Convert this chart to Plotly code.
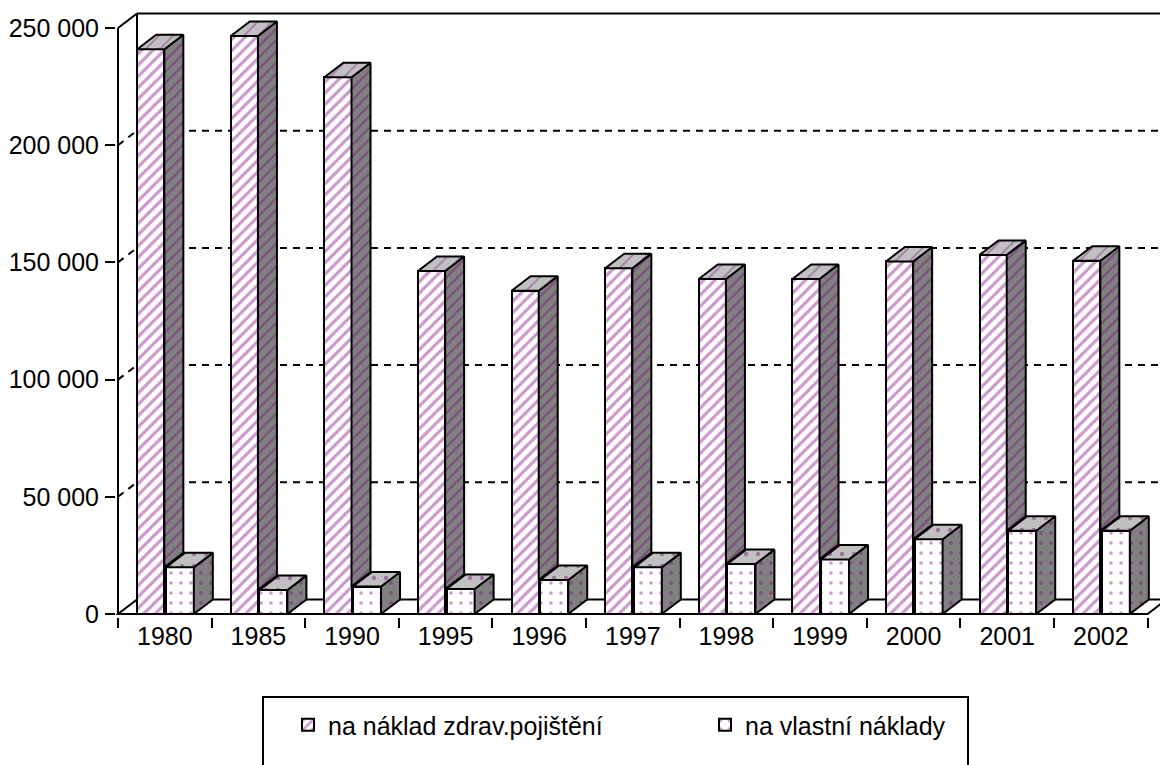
import plotly.graph_objects as go

# ---- data ----
years = ["1980", "1985", "1990", "1995", "1996", "1997", "1998", "1999", "2000", "2001", "2002"]
insured = [240900, 246600, 229000, 146300, 137900, 147500, 142900, 142900, 150400, 153200, 150700]
own_cost = [19900, 10200, 11700, 10700, 14500, 19900, 21300, 23300, 31900, 35500, 35500]
name_insured = "na náklad zdrav.pojištění"
name_own = "na vlastní náklady"
y_ticks = [0, 50000, 100000, 150000, 200000, 250000]

# ---- geometry (pixels -> data units) ----
W, H = 1160, 765
U = 93.6                 # px per category
K = 117.2 / 50000        # px per value unit
X_LEFT_PX = 118          # pixel of x = -0.5
Y0_PX = 614              # pixel of y = 0
PAD = 2
M_L = X_LEFT_PX - PAD
M_T = 8
M_B = H - (Y0_PX + 3)
x_rng = [-0.5 - PAD / U, -0.5 + (W - X_LEFT_PX) / U]
y_rng = [-3 / K, (Y0_PX - M_T) / K]
DX = 19 / U
DY = 14.5 / K
YMAX = y_ticks[-1]

n = len(years)
xs = list(range(n))

BIG_OFF, BIG_W = -0.295, 0.29
SM_OFF, SM_W = 0.01, 0.30

PURPLE = "#993399"
DPURPLE = "#7a1f7a"
GRAY = "#808080"
LGRAY = "#c0c0c0"
FONT = "Liberation Sans, Arial, sans-serif"

fig = go.Figure()

fig.add_trace(go.Bar(
    x=xs, y=insured, name=name_insured, offset=BIG_OFF, width=BIG_W,
    marker=dict(color="white", line=dict(color="black", width=2),
                pattern=dict(shape="/", fgcolor=PURPLE, bgcolor="white", size=8, solidity=0.4)),
    hoverinfo="skip"))
fig.add_trace(go.Bar(
    x=xs, y=own_cost, name=name_own, offset=SM_OFF, width=SM_W,
    marker=dict(color="white", line=dict(color="black", width=2),
                pattern=dict(shape=".", fgcolor=PURPLE, bgcolor="white", size=10, solidity=0.1)),
    hoverinfo="skip"))


def side_poly(xr, ybase, ytop):
    return [xr, xr + DX, xr + DX, xr, xr, None], [ybase, ybase + DY, ytop + DY, ytop, ybase, None]


def top_poly(xl, xr, ytop):
    return [xl, xl + DX, xr + DX, xr, xl, None], [ytop, ytop + DY, ytop + DY, ytop, ytop, None]


def faces(offset, width, vals, bases):
    sx, sy, tx, ty = [], [], [], []
    for i, v in enumerate(vals):
        xl = i + offset
        xr = xl + width
        a, b = side_poly(xr, bases[i], v)
        sx += a; sy += b
        a, b = top_poly(xl, xr, v)
        tx += a; ty += b
    return sx, sy, tx, ty


bsx, bsy, btx, bty = faces(BIG_OFF, BIG_W, insured, own_cost)
ssx, ssy, stx, sty = faces(SM_OFF, SM_W, own_cost, [0] * n)

for fx, fy, bg, shape, fg, size, sol in [
    (bsx, bsy, GRAY, "/", DPURPLE, 8, 0.3),
    (btx, bty, LGRAY, "/", DPURPLE, 10, 0.15),
    (ssx, ssy, GRAY, ".", DPURPLE, 10, 0.12),
    (stx, sty, LGRAY, ".", DPURPLE, 12, 0.1),
]:
    fig.add_trace(go.Scatter(
        x=fx, y=fy, mode="lines", fill="toself", fillcolor=bg,
        fillpattern=dict(shape=shape, fgcolor=fg, bgcolor=bg, size=size, solidity=sol),
        line=dict(color="black", width=2), showlegend=False, hoverinfo="skip"))

shapes = []
xl0 = -0.5
xr0 = n - 0.5
xend = x_rng[1] + 1
# floor
shapes.append(dict(type="path", xref="x", yref="y", layer="below",
                   path=f"M{xl0},0 L{xr0},0 L{xr0 + DX},{DY} L{xl0 + DX},{DY} Z",
                   fillcolor="white", line=dict(color="black", width=2)))
# back wall gridlines (dashed) and side-wall diagonals
for v in y_ticks[1:-1]:
    shapes.append(dict(type="line", xref="x", yref="y", layer="below",
                       x0=xl0 + DX, x1=xend, y0=v + DY, y1=v + DY,
                       line=dict(color="black", width=2, dash="7px,6px")))
    shapes.append(dict(type="line", xref="x", yref="y", layer="below",
                       x0=xl0, x1=xl0 + DX, y0=v, y1=v + DY,
                       line=dict(color="black", width=2, dash="7px,6px")))
# back wall outline
shapes.append(dict(type="line", xref="x", yref="y", layer="below",
                   x0=xl0 + DX, x1=xl0 + DX, y0=DY, y1=YMAX + DY, line=dict(color="black", width=2)))
shapes.append(dict(type="line", xref="x", yref="y", layer="below",
                   x0=xl0 + DX, x1=xend, y0=YMAX + DY, y1=YMAX + DY, line=dict(color="black", width=2)))
shapes.append(dict(type="line", xref="x", yref="y", layer="below",
                   x0=xl0, x1=xl0 + DX, y0=YMAX, y1=YMAX + DY, line=dict(color="black", width=2)))
# front value axis line
shapes.append(dict(type="line", xref="x", yref="y", layer="above",
                   x0=xl0, x1=xl0, y0=0, y1=YMAX, line=dict(color="black", width=2)))

# legend box (paper coords)
pw = W - M_L
ph = H - M_T - M_B
def px_to_paper_x(p):
    return (p - M_L) / pw
def px_to_paper_y(p):
    return (H - M_B - p) / ph
shapes.append(dict(type="rect", xref="paper", yref="paper",
                   x0=px_to_paper_x(263), x1=px_to_paper_x(968),
                   y0=px_to_paper_y(697), y1=px_to_paper_y(790),
                   line=dict(color="black", width=2), fillcolor="rgba(0,0,0,0)"))

fig.update_layout(
    width=W, height=H, autosize=False,
    margin=dict(l=M_L, r=0, t=M_T, b=M_B, pad=0),
    paper_bgcolor="white", plot_bgcolor="white",
    barmode="overlay", bargap=0,
    separators=", ",
    font=dict(family=FONT, size=25, color="black"),
    shapes=shapes,
    showlegend=True,
    legend=dict(orientation="h", x=px_to_paper_x(288), xanchor="left",
                y=px_to_paper_y(725), yanchor="middle",
                font=dict(family=FONT, size=25, color="black"),
                bgcolor="rgba(0,0,0,0)", borderwidth=0,
                entrywidth=372, entrywidthmode="pixels",
                traceorder="normal"),
    xaxis=dict(range=x_rng, tickmode="array", tickvals=xs, ticktext=years,
               ticks="", showgrid=False, zeroline=False, showline=False,
               ticklabelstandoff=2,
               minor=dict(tickmode="array", tickvals=[i - 0.5 for i in range(n + 1)],
                          ticks="outside", ticklen=10, tickwidth=2, tickcolor="black",
                          showgrid=False),
               tickfont=dict(family=FONT, size=25, color="black"), fixedrange=True),
    yaxis=dict(range=y_rng, tickmode="array", tickvals=y_ticks, tickformat=",d",
               ticks="outside", ticklen=10, tickwidth=2, tickcolor="black",
               ticklabelstandoff=1,
               showgrid=False, zeroline=False, showline=False,
               tickfont=dict(family=FONT, size=25, color="black"), fixedrange=True),
)

fig.write_html("out.html", config={"displayModeBar": False},
               post_script="document.body.style.margin='0';")
